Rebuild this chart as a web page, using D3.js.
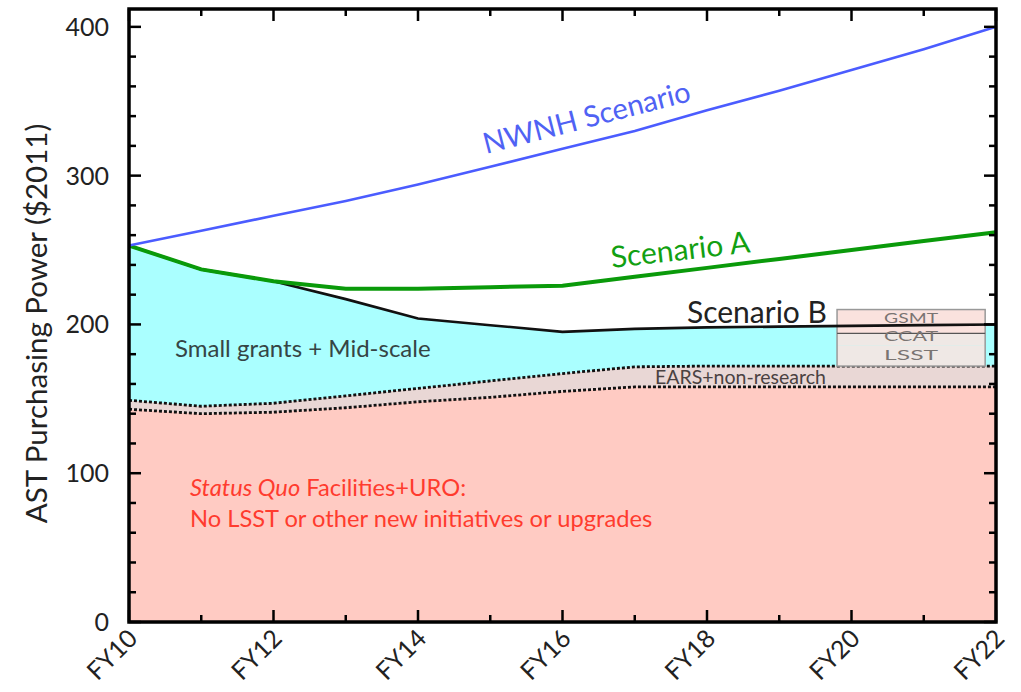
<!DOCTYPE html>
<html>
<head>
<meta charset="utf-8">
<script src="https://cdn.jsdelivr.net/npm/d3@7"></script>
<style>
  html, body { margin: 0; padding: 0; background: #fff; }
  svg text { font-family: Lato, "Open Sans", sans-serif; }
</style>
</head>
<body>
<svg id="chart" width="1021" height="692"></svg>
<script>
// ---- data ----
const years = [10, 11, 12, 13, 14, 15, 16, 17, 18, 19, 20, 21, 22];
const nwnh      = [253, 263, 273, 283, 294, 306, 318, 330, 344, 357, 371, 385, 400];
const scenarioA = [253, 237, 229, 224, 224, 225, 226, 232, 238, 244, 250, 256, 262];
const scenarioB = [253, 237, 229, 217, 204, 199.5, 195, 197, 198, 198.5, 199, 199.5, 200];
const statusQuo = [143, 140, 141, 144, 148, 151, 155, 158, 158, 158, 158, 158, 158];
const earsTop   = [149, 145, 147, 152, 157, 162, 167, 171.5, 172, 172, 172, 172, 172];
const boxNames  = ["LSST", "CCAT", "GSMT"];
const boxLo     = [172, 186, 194];
const boxHi     = [186, 194, 210];
const boxX      = [19.8, 21.85];
const xTickYears = [10, 12, 14, 16, 18, 20, 22];
const xTickLabels = ["FY10", "FY12", "FY14", "FY16", "FY18", "FY20", "FY22"];
const yTicks = [0, 100, 200, 300, 400];

// ---- scales ----
const svg = d3.select("#chart");
const x = d3.scaleLinear().domain([10, 22]).range([129, 996]);
const y = d3.scaleLinear().domain([0, 412]).range([622, 9]);

const rows = years.map((yr, i) => ({
  yr, nwnh: nwnh[i], a: scenarioA[i], b: scenarioB[i], sq: statusQuo[i], ears: earsTop[i]
}));

// ---- areas ----
const area = (lo, hi) => d3.area().x(d => x(d.yr)).y0(lo).y1(hi);
svg.append("path").datum(rows).attr("fill", "#ffcbc3")
  .attr("d", area(() => y(0), d => y(d.sq)));
svg.append("path").datum(rows).attr("fill", "#e9d7d5")
  .attr("d", area(d => y(d.sq), d => y(d.ears)));
svg.append("path").datum(rows).attr("fill", "#aaffff")
  .attr("d", area(d => y(d.ears), d => y(d.b)));

// ---- dashed boundaries ----
const line = acc => d3.line().x(d => x(d.yr)).y(d => y(acc(d)));
svg.append("path").datum(rows).attr("fill", "none").attr("stroke", "#111")
  .attr("stroke-width", 2.8).attr("stroke-dasharray", "3,2")
  .attr("d", line(d => d.sq));
svg.append("path").datum(rows).attr("fill", "none").attr("stroke", "#111")
  .attr("stroke-width", 2.8).attr("stroke-dasharray", "3,2")
  .attr("d", line(d => d.ears));

// ---- boxes ----
const boxFill = ["#efe8e5", "#efe8e5", "#fae2de"];
boxNames.forEach((n, i) => {
  svg.append("rect")
    .attr("x", x(boxX[0])).attr("width", x(boxX[1]) - x(boxX[0]))
    .attr("y", y(boxHi[i])).attr("height", y(boxLo[i]) - y(boxHi[i]))
    .attr("fill", boxFill[i]);
});
svg.append("rect")
  .attr("x", x(boxX[0])).attr("width", x(boxX[1]) - x(boxX[0]))
  .attr("y", y(boxHi[2])).attr("height", y(boxLo[0]) - y(boxHi[2]))
  .attr("fill", "none").attr("stroke", "#999").attr("stroke-width", 1.5);
svg.append("line")
  .attr("x1", x(boxX[0])).attr("x2", x(boxX[1]))
  .attr("y1", y(boxLo[2])).attr("y2", y(boxLo[2]))
  .attr("stroke", "#555").attr("stroke-width", 1.2);
boxNames.forEach((n, i) => {
  svg.append("text")
    .attr("x", (x(boxX[0]) + x(boxX[1])) / 2)
    .attr("y", [360, 341, 323][i])
    .attr("text-anchor", "middle").attr("font-size", 14)
    .attr("textLength", 54).attr("lengthAdjust", "spacingAndGlyphs")
    .attr("fill", "#7a7472").text(n);
});

// ---- scenario lines ----
svg.append("path").datum(rows).attr("fill", "none").attr("stroke", "#111")
  .attr("stroke-width", 2.6).attr("d", line(d => d.b));
svg.append("path").datum(rows).attr("fill", "none").attr("stroke", "#0a9a0a")
  .attr("stroke-width", 4).attr("d", line(d => d.a));
svg.append("path").datum(rows).attr("fill", "none").attr("stroke", "#4b5cff")
  .attr("stroke-width", 2.6).attr("d", line(d => d.nwnh));

// ---- labels ----
svg.append("text").attr("transform", "translate(486,154) rotate(-14.5)")
  .attr("font-size", 29).attr("fill", "#5062f4").text("NWNH Scenario");
svg.append("text").attr("transform", "translate(612,268) rotate(-6.5)")
  .attr("font-size", 30).attr("fill", "#12a012").text("Scenario A");
svg.append("text").attr("x", 687).attr("y", 323)
  .attr("font-size", 30).attr("fill", "#222").text("Scenario B");
svg.append("text").attr("x", 175).attr("y", 357)
  .attr("font-size", 24).attr("fill", "#354545").text("Small grants + Mid-scale");
svg.append("text").attr("x", 655).attr("y", 384)
  .attr("font-size", 19.5).attr("fill", "#4a4242").text("EARS+non-research");
const sq = svg.append("text").attr("x", 190).attr("y", 496)
  .attr("font-size", 23.7).attr("fill", "#ff3b2e");
sq.append("tspan").attr("font-style", "italic").text("Status Quo");
sq.append("tspan").text(" Facilities+URO:");
svg.append("text").attr("x", 190).attr("y", 527)
  .attr("font-size", 23.7).attr("fill", "#ff3b2e")
  .text("No LSST or other new initiatives or upgrades");

// ---- frame & ticks ----
const x0 = x.range()[0], x1 = x.range()[1], y0 = y.range()[0], y1 = y.range()[1];
const tickG = svg.append("g").attr("stroke", "#000").attr("stroke-width", 2.5);
d3.range(10, 23, 1).forEach(v => {
  const len = v % 2 === 0 ? 12 : 7;
  tickG.append("line").attr("x1", x(v)).attr("x2", x(v)).attr("y1", y0).attr("y2", y0 - len);
  tickG.append("line").attr("x1", x(v)).attr("x2", x(v)).attr("y1", y1).attr("y2", y1 + len);
});
d3.range(0, 412, 20).forEach(v => {
  const len = v % 100 === 0 ? 12 : 7;
  tickG.append("line").attr("y1", y(v)).attr("y2", y(v)).attr("x1", x0).attr("x2", x0 + len);
  tickG.append("line").attr("y1", y(v)).attr("y2", y(v)).attr("x1", x1).attr("x2", x1 - len);
});
svg.append("rect").attr("x", x0).attr("y", y1).attr("width", x1 - x0).attr("height", y0 - y1)
  .attr("fill", "none").attr("stroke", "#000").attr("stroke-width", 3.5);

// axis tick labels
yTicks.forEach(v => {
  svg.append("text").attr("x", 109).attr("y", y(v) + 9)
    .attr("text-anchor", "end").attr("font-size", 25).attr("fill", "#222").text(v);
});
xTickYears.forEach((v, i) => {
  svg.append("text")
    .attr("transform", `translate(${x(v) + 10},${y0 + 18}) rotate(-45)`)
    .attr("text-anchor", "end").attr("font-size", 25).attr("fill", "#222")
    .text(xTickLabels[i]);
});
svg.append("text").attr("transform", `translate(47,${(y0 + y1) / 2 + 8}) rotate(-90)`)
  .attr("text-anchor", "middle").attr("font-size", 29.5).attr("fill", "#222")
  .text("AST Purchasing Power ($2011)");
</script>
</body>
</html>
